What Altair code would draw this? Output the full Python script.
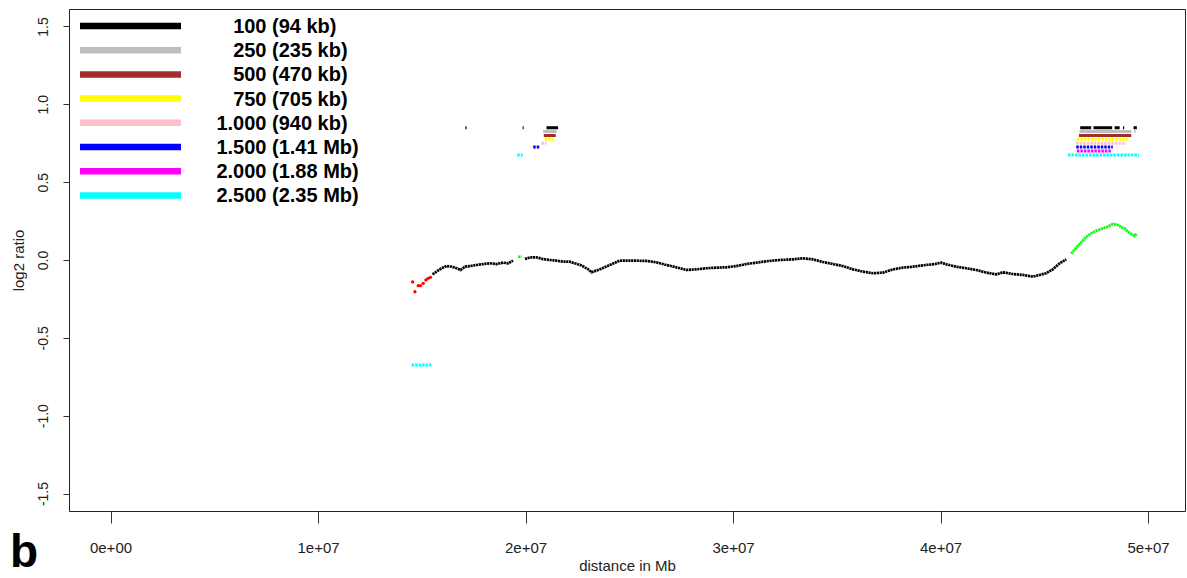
import altair as alt
import pandas as pd

# ---- smoothed log2 ratio along the chromosome (position in Mb) ----
trace_pos = [
    14.56, 14.67, 14.83, 14.94, 15.07, 15.20, 15.31, 15.42,
    15.52, 15.71, 15.95, 16.19, 16.44, 16.68, 16.87, 17.08, 17.32, 17.64,
    17.96, 18.28, 18.60, 18.92, 19.16, 19.40,
    19.64, 19.81,
    19.97, 20.21, 20.53, 20.85, 21.17, 21.49, 21.81, 22.13, 22.37, 22.70,
    23.02, 23.18, 23.58, 24.06, 24.54, 25.18, 25.83, 26.31, 26.79, 27.27,
    27.76, 28.24, 28.72, 29.20, 29.68, 30.16, 30.64, 31.13, 31.61, 32.25,
    32.89, 33.37, 33.85, 34.34, 34.82, 35.30, 35.78, 36.26, 36.74, 37.23,
    37.71, 38.19, 38.67, 39.15, 39.63, 40.04, 40.28, 40.76, 41.24, 41.72,
    42.20, 42.69, 43.01, 43.49, 43.97, 44.45, 44.77, 45.09, 45.41, 45.74,
    46.06,
    46.30, 46.54, 46.78, 47.02, 47.26, 47.50, 47.82, 48.06, 48.30, 48.55,
    48.71, 48.87, 49.03, 49.19, 49.35, 49.46,
]
trace_val = [
    -0.141, -0.204, -0.165, -0.165, -0.150, -0.128, -0.118, -0.111,
    -0.092, -0.075, -0.053, -0.039, -0.043, -0.053, -0.064, -0.043, -0.039, -0.032,
    -0.026, -0.021, -0.026, -0.017, -0.021, -0.004,
    0.021, 0.021,
    0.006, 0.017, 0.017, 0.006, 0.000, -0.004, -0.011, -0.011, -0.021, -0.035,
    -0.060, -0.079, -0.060, -0.032, -0.004, -0.004, -0.006, -0.015, -0.032, -0.047,
    -0.064, -0.060, -0.053, -0.049, -0.047, -0.039, -0.026, -0.017, -0.008, 0.000,
    0.004, 0.011, 0.004, -0.013, -0.026, -0.039, -0.060, -0.075, -0.085, -0.081,
    -0.060, -0.049, -0.043, -0.034, -0.028, -0.017, -0.028, -0.043, -0.053, -0.064,
    -0.081, -0.092, -0.079, -0.090, -0.096, -0.107, -0.096, -0.085, -0.060, -0.021,
    0.004,
    0.040, 0.080, 0.115, 0.148, 0.171, 0.188, 0.203, 0.214, 0.231, 0.225,
    0.210, 0.203, 0.182, 0.167, 0.154, 0.171,
]
trace_call = (["loss"] * 8 + ["none"] * 16 + ["gain"] * 2
              + ["none"] * 61 + ["gain"] * 16)

# ---- window sizes used for the segment calls ----
window_sizes = ["100", "250", "500", "750", "1.000", "1.500", "2.000", "2.500"]
window_spans = ["(94 kb)", "(235 kb)", "(470 kb)", "(705 kb)", "(940 kb)",
                "(1.41 Mb)", "(1.88 Mb)", "(2.35 Mb)"]
window_colors = ["#000000", "#BEBEBE", "#A52A2A", "#FFFF00", "#FFC0CB",
                 "#0000FF", "#FF00FF", "#00FFFF"]

# ---- called segments: window, start (Mb), end (Mb), direction ----
seg_window = ["100"] * 8 + ["250"] * 3 + ["500"] * 2 + ["750"] * 2 + ["1.000"] * 2 \
    + ["1.500"] * 2 + ["2.000"] + ["2.500"] * 3
seg_start = [17.10, 19.86, 21.01, 46.73, 47.37, 48.39, 48.79, 49.30,
             20.85, 46.70, 49.33,
             20.88, 46.67,
             20.93, 46.57,
             20.77, 46.54,
             20.37, 46.54,
             46.57,
             19.60, 46.14, 14.51]
seg_end = [17.16, 19.91, 21.57, 47.26, 48.27, 48.63, 48.85, 49.46,
           21.49, 49.19, 49.40,
           21.46, 49.19,
           21.33, 49.03,
           21.01, 48.95,
           20.66, 48.30,
           48.23,
           19.86, 49.56, 15.47]
seg_dir = ["gain"] * 22 + ["loss"]

FONT = "Liberation Sans"
W, H = 1116, 502
X_DOM = [-2.0, 51.78]
Y_DOM = [-1.612, 1.612]
x_scale = alt.Scale(domain=X_DOM, nice=False, zero=False)
y_scale = alt.Scale(domain=Y_DOM, nice=False, zero=False)
win_scale = alt.Scale(domain=window_sizes, range=window_colors)


def px_to_val(py):
    """Vertical pixel offset from the top of the panel -> log2 value."""
    return Y_DOM[1] - py * (Y_DOM[1] - Y_DOM[0]) / H


trace = pd.DataFrame({"pos": trace_pos, "val": trace_val, "call": trace_call})
trace["run"] = (trace["call"] != trace["call"].shift()).cumsum()

# stacked offsets so each window size gets its own row above/below zero
level_of = {w: 0.85 - 0.025 * i for i, w in enumerate(window_sizes)}
segs = pd.DataFrame({"window": seg_window, "pos": seg_start,
                     "pos2": seg_end, "dir": seg_dir})
segs["val"] = [level_of[w] * (1 if d == "gain" else -1)
               for w, d in zip(segs["window"], segs["dir"])]
segs["dotted"] = [window_sizes.index(w) >= 3 for w in segs["window"]]

x_axis = alt.Axis(values=[0, 10, 20, 30, 40, 50], title="distance in Mb",
                  labelExpr="datum.value == 0 ? '0e+00' : (datum.value / 10) + 'e+07'",
                  tickSize=12, labelPadding=17, labelFontSize=15,
                  titleFontSize=15, titleFontWeight="normal", titleY=59,
                  titleBaseline="alphabetic", grid=False, domain=False)
y_axis = alt.Axis(values=[-1.5, -1.0, -0.5, 0.0, 0.5, 1.0, 1.5], title="log2 ratio",
                  labelExpr="(datum.value < 0 ? '-' : '') + format(abs(datum.value), '.1f')",
                  labelAngle=270, labelAlign="center", labelBaseline="bottom",
                  tickSize=6, labelPadding=13, labelFontSize=14,
                  titleFontSize=15, titleFontWeight="normal", titleAngle=270,
                  titleX=-46, titleY=251, titleAlign="center",
                  titleBaseline="alphabetic", grid=False, domain=False)

X = alt.X("pos:Q", scale=x_scale, axis=x_axis)
Y = alt.Y("val:Q", scale=y_scale, axis=y_axis)

base_line = alt.Chart(trace[trace["call"] == "none"]).mark_line(
    strokeWidth=2.7, strokeDash=[2.2, 0.6], color="#000000"
).encode(x=X, y=Y, detail="run:N", order="pos:Q")

gain_line = alt.Chart(trace[trace["call"] == "gain"]).mark_line(
    strokeWidth=2.7, strokeDash=[2.2, 0.6], color="#00FF00"
).encode(x=X, y=Y, detail="run:N", order="pos:Q")

loss_points = alt.Chart(trace[trace["call"] == "loss"]).mark_circle(
    size=11, opacity=1, color="#FF0000"
).encode(x=X, y=Y)

segments = alt.Chart(segs).mark_rule(strokeWidth=3, strokeCap="butt").encode(
    x=X, x2="pos2:Q", y=Y,
    color=alt.Color("window:N", scale=win_scale, legend=None),
    strokeDash=alt.StrokeDash("dotted:N", scale=alt.Scale(domain=[False, True],
                              range=[[1, 0], [2.5, 1]]), legend=None),
)

# ---- legend drawn in the top-left corner of the panel ----
legend_df = pd.DataFrame({"window": window_sizes, "span": window_spans})
legend_df["val"] = [px_to_val(17 + 24.2 * i) for i in range(len(legend_df))]

legend_lines = alt.Chart(legend_df).mark_rule(strokeWidth=6.5, strokeCap="butt").encode(
    x=alt.value(11), x2=alt.value(112), y=Y,
    color=alt.Color("window:N", scale=win_scale, legend=None),
)
legend_num = alt.Chart(legend_df).mark_text(
    align="right", baseline="middle", dy=1, font=FONT, fontSize=20,
    fontWeight="bold", color="black"
).encode(x=alt.value(197.5), y=Y, text="window:N")
legend_span = alt.Chart(legend_df).mark_text(
    align="left", baseline="middle", dy=1, font=FONT, fontSize=20,
    fontWeight="bold", color="black"
).encode(x=alt.value(203), y=Y, text="span:N")

panel_tag = alt.Chart(pd.DataFrame({"t": ["b"]})).mark_text(
    align="left", baseline="bottom", font=FONT, fontSize=46,
    fontWeight="bold", color="black"
).encode(x=alt.value(-59), y=alt.value(568), text="t:N")

chart = alt.layer(
    base_line, gain_line, loss_points, segments,
    legend_lines, legend_num, legend_span, panel_tag
).properties(
    width=W, height=H,
    autosize=alt.AutoSizeParams(type="none"),
    padding={"left": 69, "top": 9, "right": 2, "bottom": 67},
    background="white",
).configure_view(
    stroke="#222", strokeWidth=1
).configure_axis(
    labelFont=FONT, titleFont=FONT,
    labelColor="#222", titleColor="#222", tickColor="#333", tickWidth=1,
)

chart.save("out.html", embed_options={"renderer": "svg", "actions": False})
